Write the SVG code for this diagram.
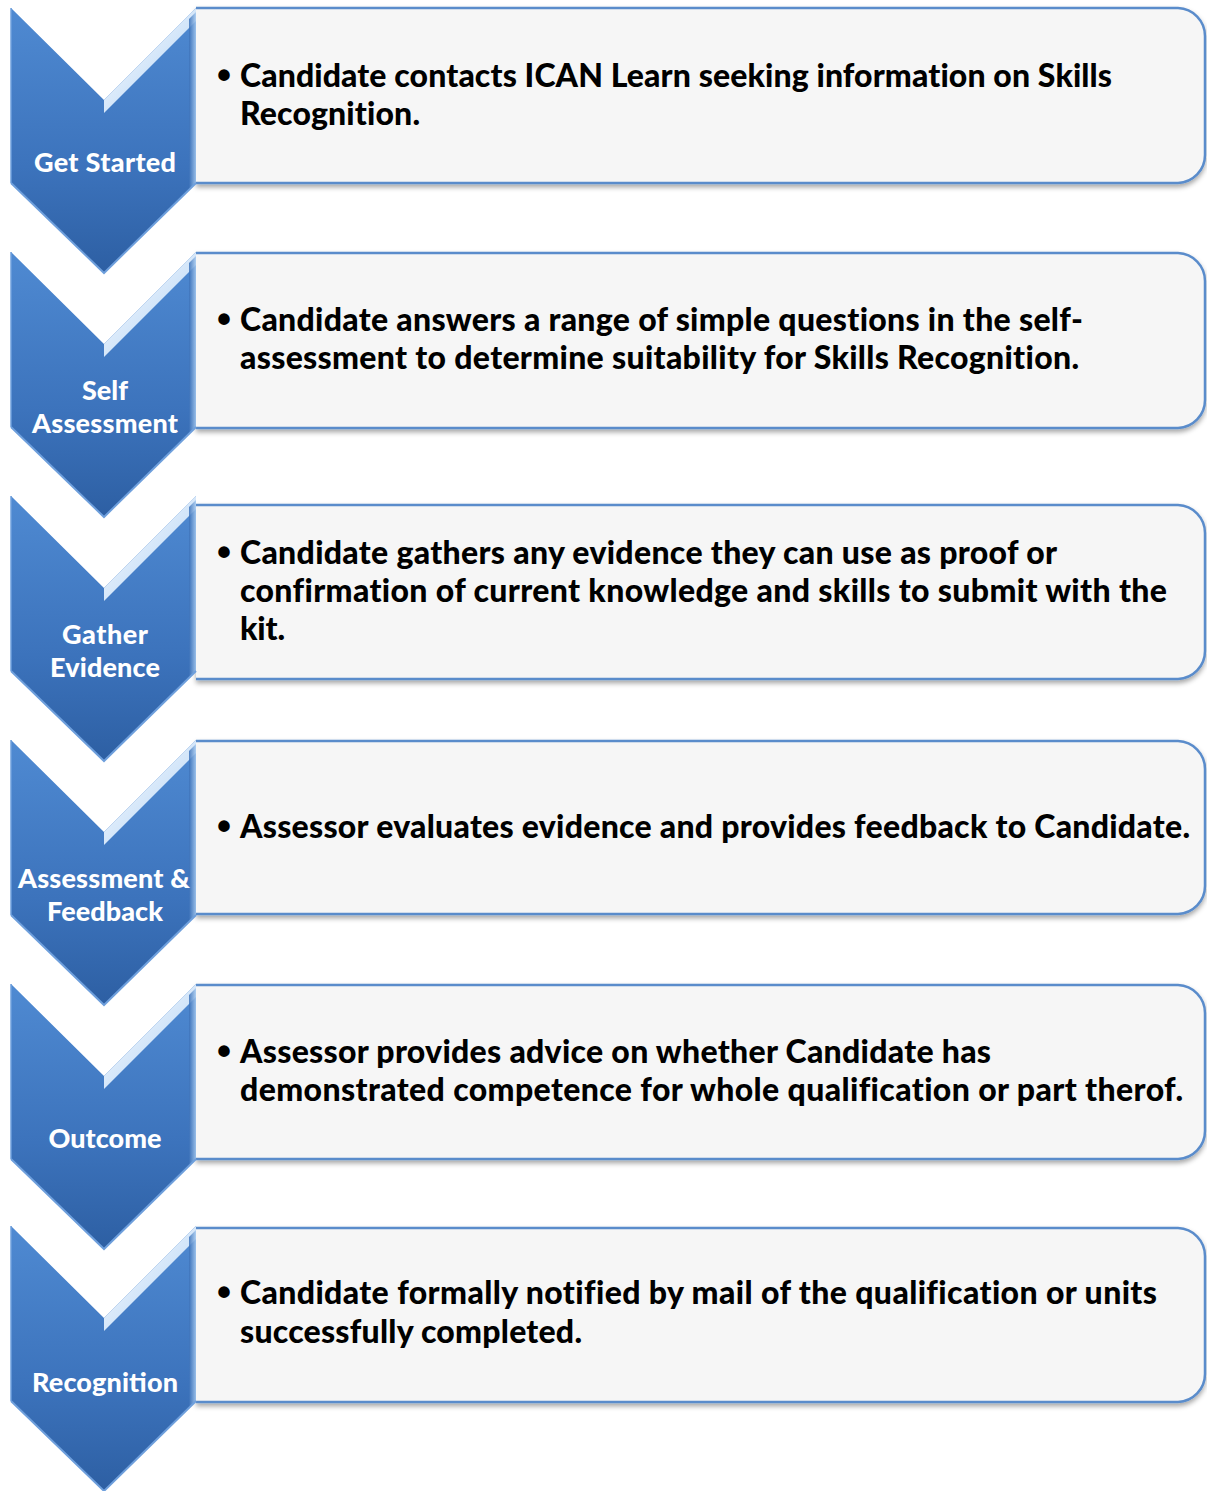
<svg xmlns="http://www.w3.org/2000/svg" width="1207" height="1491" viewBox="0 0 1207 1491">
<defs>
<linearGradient id="cg" x1="0" y1="0" x2="0" y2="1">
<stop offset="0" stop-color="#4F8AD2"/>
<stop offset="0.6" stop-color="#3C73BC"/>
<stop offset="1" stop-color="#2D5FA3"/>
</linearGradient>
<linearGradient id="hl" x1="0" y1="0" x2="1" y2="1">
<stop offset="0" stop-color="#FFFFFF"/>
<stop offset="0.55" stop-color="#D2E5F9"/>
<stop offset="1" stop-color="#7EAEE6"/>
</linearGradient>
<linearGradient id="re" x1="0" y1="0" x2="1" y2="0">
<stop offset="0" stop-color="#3A70B8"/>
<stop offset="1" stop-color="#A8CBF0"/>
</linearGradient>
<filter id="sh" x="-5%" y="-10%" width="110%" height="130%">
<feDropShadow dx="0" dy="3" stdDeviation="2.5" flood-color="#000" flood-opacity="0.35"/>
</filter>
<g id="chev">
<polygon points="11,0 104,92 196,0 196,175 104,265 11,175" fill="url(#cg)"/>
<polygon points="104,92 196,0 196,13 104,105" fill="url(#hl)"/>
<polygon points="189,11 196,4 196,175 189,182" fill="url(#re)" opacity="0.85"/>
<polyline points="11,175 104,265 196,175" fill="none" stroke="#6E9FDC" stroke-width="2"/>
<polyline points="11,0 11,175" fill="none" stroke="#6E9FDC" stroke-width="1.5"/>
</g>
</defs>
<style>
.box{fill:#F6F6F6;stroke:#5A8CCB;stroke-width:2.5}
.t{font-family:Lato,"Liberation Sans",sans-serif;font-weight:900;font-size:32px;fill:#000;font-variant-ligatures:none}
.b{font-family:"Liberation Sans",sans-serif;font-weight:bold;font-size:40px;fill:#000}
.l{font-family:Lato,"Liberation Sans",sans-serif;font-weight:900;font-size:27px;fill:#fff;text-anchor:middle}
</style>
<g id="connectors"></g>

<g id="box1" filter="url(#sh)"><path class="box" d="M196,8 H1178 A28,28 0 0 1 1205,36 V155 A28,28 0 0 1 1178,183 H196"/></g>
<g id="box2" filter="url(#sh)"><path class="box" d="M196,253 H1178 A28,28 0 0 1 1205,281 V400 A28,28 0 0 1 1178,428 H196"/></g>
<g id="box3" filter="url(#sh)"><path class="box" d="M196,505 H1178 A28,28 0 0 1 1205,533 V651 A28,28 0 0 1 1178,679 H196"/></g>
<g id="box4" filter="url(#sh)"><path class="box" d="M196,741 H1178 A28,28 0 0 1 1205,769 V886 A28,28 0 0 1 1178,914 H196"/></g>
<g id="box5" filter="url(#sh)"><path class="box" d="M196,985 H1178 A28,28 0 0 1 1205,1013 V1131 A28,28 0 0 1 1178,1159 H196"/></g>
<g id="box6" filter="url(#sh)"><path class="box" d="M196,1228 H1178 A28,28 0 0 1 1205,1256 V1374 A28,28 0 0 1 1178,1402 H196"/></g>

<g id="text1">
<text class="b" x="217" y="89">•</text>
<text class="t" x="240" y="87" textLength="872" lengthAdjust="spacing">Candidate contacts ICAN Learn seeking information on Skills</text>
<text class="t" x="240" y="125" textLength="180" lengthAdjust="spacing">Recognition.</text>
</g>
<g id="text2">
<text class="b" x="217" y="333">•</text>
<text class="t" x="240" y="331" textLength="843" lengthAdjust="spacing">Candidate answers a range of simple questions in the self-</text>
<text class="t" x="240" y="369" textLength="839" lengthAdjust="spacing">assessment to determine suitability for Skills Recognition.</text>
</g>
<g id="text3">
<text class="b" x="217" y="566">•</text>
<text class="t" x="240" y="564" textLength="817" lengthAdjust="spacing">Candidate gathers any evidence they can use as proof or</text>
<text class="t" x="240" y="602" textLength="927" lengthAdjust="spacing">confirmation of current knowledge and skills to submit with the</text>
<text class="t" x="240" y="640" textLength="45" lengthAdjust="spacing">kit.</text>
</g>
<g id="text4">
<text class="b" x="217" y="840">•</text>
<text class="t" x="240" y="838" textLength="950" lengthAdjust="spacing">Assessor evaluates evidence and provides feedback to Candidate.</text>
</g>
<g id="text5">
<text class="b" x="217" y="1065">•</text>
<text class="t" x="240" y="1063" textLength="751" lengthAdjust="spacing">Assessor provides advice on whether Candidate has</text>
<text class="t" x="240" y="1101" textLength="943" lengthAdjust="spacing">demonstrated competence for whole qualification or part therof.</text>
</g>
<g id="text6">
<text class="b" x="217" y="1306">•</text>
<text class="t" x="240" y="1304" textLength="917" lengthAdjust="spacing">Candidate formally notified by mail of the qualification or units</text>
<text class="t" x="240" y="1343" textLength="342" lengthAdjust="spacing">successfully completed.</text>
</g>

<g id="step1"><use href="#chev" transform="translate(0,8)"/><text class="l" x="105" y="172" textLength="142" lengthAdjust="spacing">Get Started</text></g>
<g id="step2"><use href="#chev" transform="translate(0,252)"/><text class="l" x="105" y="400" textLength="46" lengthAdjust="spacing">Self</text><text class="l" x="105" y="433" textLength="146" lengthAdjust="spacing">Assessment</text></g>
<g id="step3"><use href="#chev" transform="translate(0,496)"/><text class="l" x="105" y="644" textLength="86" lengthAdjust="spacing">Gather</text><text class="l" x="105" y="677" textLength="110" lengthAdjust="spacing">Evidence</text></g>
<g id="step4"><use href="#chev" transform="translate(0,740)"/><text class="l" x="104" y="888" textLength="172" lengthAdjust="spacing">Assessment &amp;</text><text class="l" x="105" y="921" textLength="116" lengthAdjust="spacing">Feedback</text></g>
<g id="step5"><use href="#chev" transform="translate(0,984)"/><text class="l" x="105" y="1148" textLength="113" lengthAdjust="spacing">Outcome</text></g>
<g id="step6"><use href="#chev" transform="translate(0,1226)"/><text class="l" x="105" y="1392" textLength="146" lengthAdjust="spacing">Recognition</text></g>
</svg>
